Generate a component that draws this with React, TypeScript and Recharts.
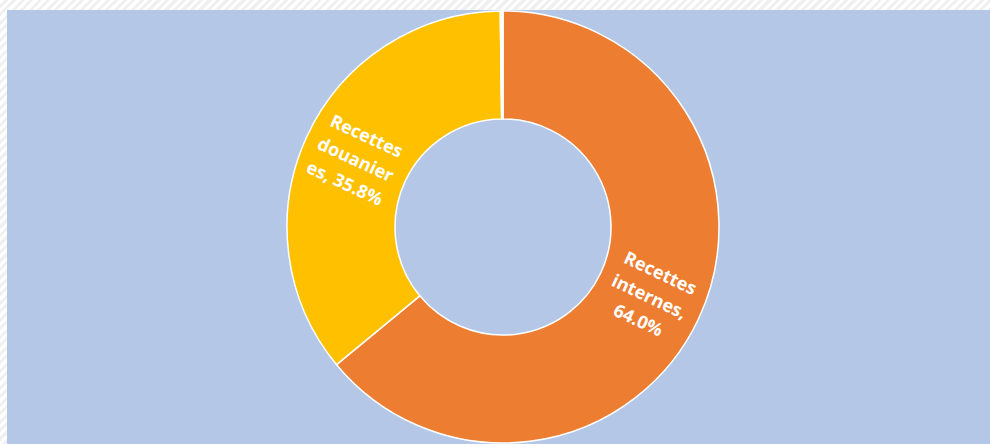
import { PieChart, Pie, Cell } from 'recharts';

const categories = ['Recettes internes', 'Recettes douanières', 'Autres'];
const shares = [64.0, 35.8, 0.2];
const labelLines = [
  ['Recettes', 'internes,', '64.0%'],
  ['Recettes', 'douanier', 'es, 35.8%'],
  [],
];
const colors = ['#ED7D31', '#FFC000', '#FFFFFF'];

const data = categories.map((name, i) => ({ name, value: shares[i] }));

const RADIAN = Math.PI / 180;

function renderLabel(props: any) {
  const { cx, cy, midAngle, innerRadius, outerRadius, index } = props;
  const lines = labelLines[index];
  if (!lines || lines.length === 0) return null;
  const r = (innerRadius + outerRadius) / 2;
  const x = cx + r * Math.cos(-midAngle * RADIAN);
  const y = cy + r * Math.sin(-midAngle * RADIAN);
  // clockwise-from-top angle, text follows the ring tangent
  const cw = (((90 - midAngle) % 360) + 360) % 360;
  const rot = (cw % 180) - 90;
  const lh = 26;
  const start = -((lines.length - 1) * lh) / 2;
  return (
    <text
      x={x}
      y={y}
      transform={`rotate(${rot} ${x} ${y})`}
      fill="#FFFFFF"
      fontSize={18}
      fontWeight={700}
      fontFamily="'Open Sans', sans-serif"
      textAnchor="middle"
      dominantBaseline="central"
    >
      {lines.map((line, i) => (
        <tspan key={i} x={x} y={y + start + i * lh}>
          {line}
        </tspan>
      ))}
    </text>
  );
}

export default function App() {
  return (
    <div
      style={{
        position: 'fixed',
        left: 0,
        top: 0,
        width: 990,
        height: 444,
        background:
          'repeating-linear-gradient(135deg, #FFFFFF 0px, #FFFFFF 3px, #F0F0F0 3px, #F0F0F0 6px)',
        overflow: 'hidden',
      }}
    >
      <div
        style={{
          position: 'absolute',
          left: 7,
          top: 10,
          width: 983,
          height: 434,
          background: '#B4C7E7',
        }}
      />
      <div style={{ position: 'absolute', left: 0, top: 0 }}>
        <PieChart width={990} height={444} margin={{ top: 0, right: 0, bottom: 0, left: 0 }}>
          <Pie
            data={data}
            dataKey="value"
            nameKey="name"
            cx={503}
            cy={227}
            innerRadius={108}
            outerRadius={216}
            startAngle={90}
            endAngle={-270}
            stroke="#FFFFFF"
            strokeWidth={1.5}
            label={renderLabel}
            labelLine={false}
            isAnimationActive={false}
          >
            {data.map((d, i) => (
              <Cell key={d.name} fill={colors[i]} />
            ))}
          </Pie>
        </PieChart>
      </div>
    </div>
  );
}
